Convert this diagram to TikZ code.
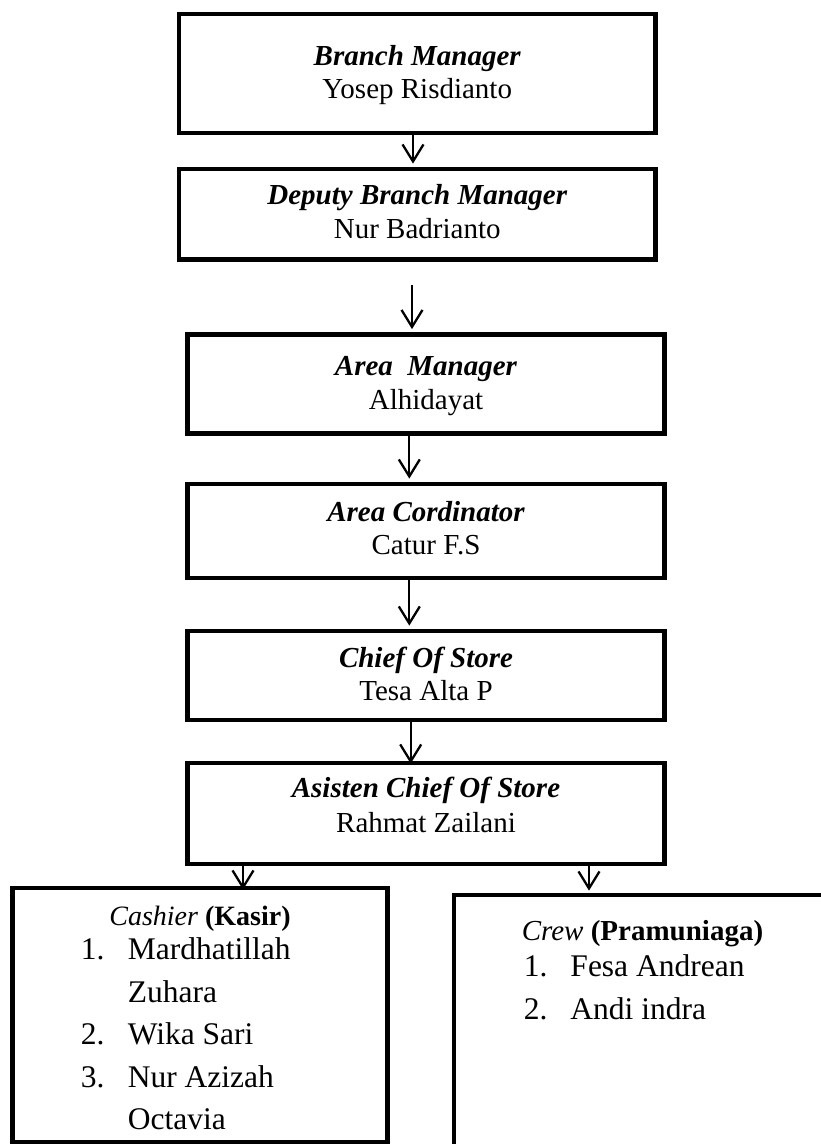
\documentclass[tikz,border=0pt]{standalone}
\usepackage{fontspec}
\setmainfont{Liberation Serif}
\usetikzlibrary{arrows.meta,calc}
\begin{document}
\begin{tikzpicture}[x=1pt,y=-1pt,
  box/.style={draw, rectangle, line width=4.8pt, inner sep=0pt},
  arr/.style={line width=2.3pt, -{Straight Barb[length=17pt,width=21pt]}},
  tt/.style={anchor=base, inner sep=0pt, font=\fontsize{29}{33}\selectfont\bfseries\itshape},
  nm/.style={anchor=base, inner sep=0pt, font=\fontsize{29}{33}\selectfont},
  li/.style={anchor=base west, inner sep=0pt, font=\fontsize{31.5}{36}\selectfont},
]
\fill[white] (0,0) rectangle (821,1144);
\useasboundingbox (0,0) rectangle (821,1144);
\clip (0,0) rectangle (821,1144);

% boxes
\node[box, minimum width=476.5pt, minimum height=119pt] (b1) at (417.25,73.5) {};
\node[box, minimum width=476.5pt, minimum height=90.5pt] (b2) at (417.25,214.25) {};
\node[box, minimum width=477pt, minimum height=99pt] (b3) at (426,384) {};
\node[box, minimum width=477pt, minimum height=94pt] (b4) at (426,531) {};
\node[box, minimum width=477pt, minimum height=89pt] (b5) at (426,675.5) {};
\node[box, minimum width=477pt, minimum height=101pt] (b6) at (426,813.5) {};
\node[box, minimum width=375pt, minimum height=254pt] (cash) at (200,1015) {};
\node[box, minimum width=377pt, minimum height=280pt] (crew) at (642.5,1035) {};

% texts
\node[tt] (t1) at ($(b1.north)+(0,54)$) {Branch Manager};
\node[nm] (n1) at ($(b1.north)+(0,87)$) {Yosep Risdianto};
\node[tt] (t2) at ($(b2.north)+(0,38)$) {Deputy Branch Manager};
\node[nm] (n2) at ($(b2.north)+(0,72)$) {Nur Badrianto};
\node[tt] (t3) at ($(b3.north)+(0,43.5)$) {Area\ \ Manager};
\node[nm] (n3) at ($(b3.north)+(0,77.5)$) {Alhidayat};
\node[tt] (t4) at ($(b4.north)+(0,40)$) {Area Cordinator};
\node[nm] (n4) at ($(b4.north)+(0,73)$) {Catur F.S};
\node[tt] (t5) at ($(b5.north)+(0,39)$) {Chief Of Store};
\node[nm] (n5) at ($(b5.north)+(0,72)$) {Tesa Alta P};
\node[tt] (t6) at ($(b6.north)+(0,37)$) {Asisten Chief Of Store};
\node[nm] (n6) at ($(b6.north)+(0,72)$) {Rahmat Zailani};

\node[nm, font=\fontsize{28}{32}\selectfont] (tc) at ($(cash.north)+(0,40)$) {\textit{Cashier} \textbf{(Kasir)}};
\node[li] (c1) at ($(cash.north west)+(70.5,74)$) {\makebox[47pt][l]{1.}Mardhatillah};
\node[li] (c1b) at ($(cash.north west)+(70.5,117)$) {\makebox[47pt][l]{}Zuhara};
\node[li] (c2) at ($(cash.north west)+(70.5,159)$) {\makebox[47pt][l]{2.}Wika Sari};
\node[li] (c3) at ($(cash.north west)+(70.5,202)$) {\makebox[47pt][l]{3.}Nur Azizah};
\node[li] (c3b) at ($(cash.north west)+(70.5,244)$) {\makebox[47pt][l]{}Octavia};

\node[nm] (tw) at ($(crew.north)+(0,48)$) {\textit{Crew} \textbf{(Pramuniaga)}};
\node[li] (w1) at ($(crew.north west)+(72,84)$) {\makebox[46.7pt][l]{1.}Fesa Andrean};
\node[li] (w2) at ($(crew.north west)+(72,127)$) {\makebox[46.7pt][l]{2.}Andi indra};

% arrow x positions
\coordinate (x1) at (413,0);
\coordinate (x2) at (412,0);
\coordinate (x3) at (409.3,0);
\coordinate (x5) at (410.7,0);
\coordinate (xc) at (243,0);
\coordinate (xw) at (589,0);

\draw[arr, shorten >=3pt] (b1.south -| x1) -- (b2.north -| x1);
\draw[arr, shorten <=23.5pt, shorten >=3pt] (b2.south -| x2) -- (b3.north -| x2);
\draw[arr, shorten >=3pt] (b3.south -| x3) -- (b4.north -| x3);
\draw[arr, shorten >=3pt] (b4.south -| x3) -- (b5.north -| x3);
\draw[arr, shorten >=-3pt] (b5.south -| x5) -- (b6.north -| x5);
\draw[arr, shorten >=-4pt] (b6.south -| xc) -- (cash.north -| xc);
\draw[arr, shorten >=2pt] (b6.south -| xw) -- (crew.north -| xw);
\end{tikzpicture}
\end{document}
